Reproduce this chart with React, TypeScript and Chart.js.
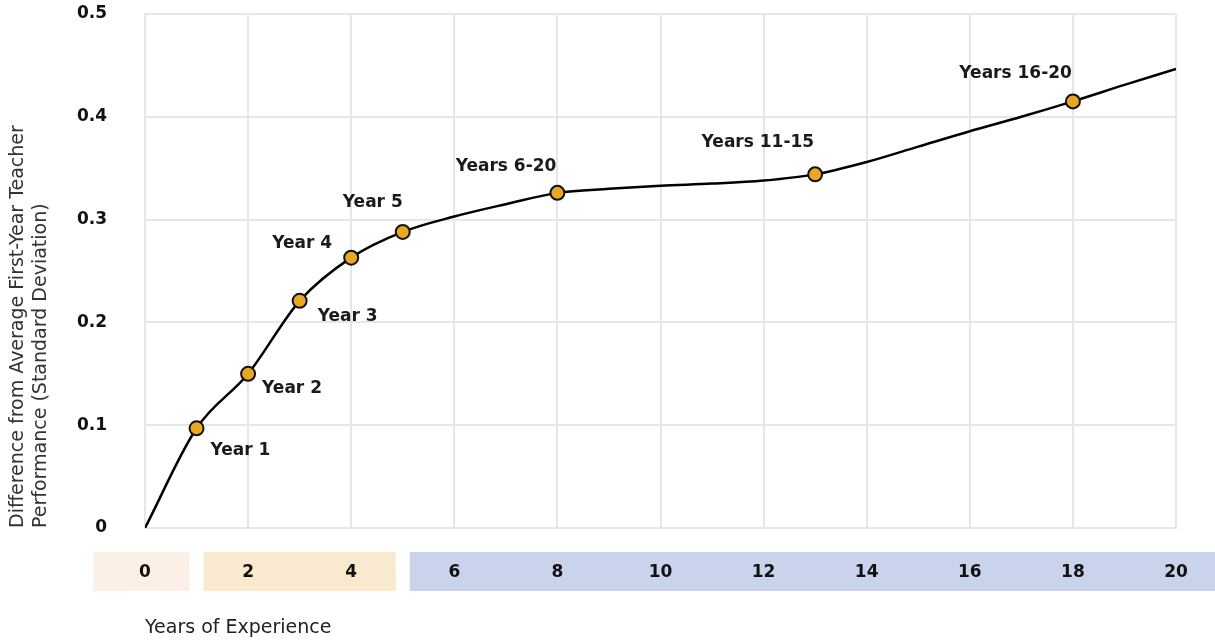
import React, { useEffect, useRef } from "react";
import { Chart, registerables } from "chart.js";

Chart.register(...registerables);

// ---- data ----
const years = [0, 1, 2, 3, 4, 5, 6, 7, 8, 9, 10, 11, 12, 13, 14, 15, 16, 17, 18, 19, 20];
const effect = [0, 0.097, 0.15, 0.221, 0.263, 0.288, 0.303, 0.315, 0.326, 0.33, 0.333, 0.335, 0.338, 0.344, 0.356, 0.371, 0.386, 0.4, 0.415, 0.431, 0.4465];

const markerYears = [1, 2, 3, 4, 5, 8, 13, 18];
const markerValues = [0.097, 0.15, 0.221, 0.263, 0.288, 0.326, 0.344, 0.415];
const markerLabels = ["Year 1", "Year 2", "Year 3", "Year 4", "Year 5", "Years 6-20", "Years 11-15", "Years 16-20"];

const xTickLabels = ["0", "2", "4", "6", "8", "10", "12", "14", "16", "18", "20"];
const yTickLabels = ["0", "0.1", "0.2", "0.3", "0.4", "0.5"];

const bandFrom = [-1, 1, 5];
const bandTo = [1, 5, 21];
const bandColors = ["#FCEFE6", "#F9EACF", "#C9D3EB"];

const xTitle = "Years of Experience";
const yTitle = ["Difference from Average First-Year Teacher", "Performance (Standard Deviation)"];

// ---- label placement (layout) ----
const labelPlacement = [
  { align: "left", dx: 14, dy: 22 },
  { align: "left", dx: 14, dy: 15 },
  { align: "left", dx: 18, dy: 16 },
  { align: "right", dx: -19, dy: -14 },
  { align: "right", dx: 0, dy: -29 },
  { align: "right", dx: -1, dy: -26 },
  { align: "right", dx: -1, dy: -32 },
  { align: "right", dx: -1, dy: -28 },
];

const FONT = "'DejaVu Sans', sans-serif";

const bandsPlugin = {
  id: "bands",
  beforeDraw(chart: any) {
    const { ctx, chartArea, scales } = chart;
    const xs = scales.x;
    const gap = 7;
    const top = chartArea.bottom + 24;
    const h = 39;
    ctx.save();
    for (let i = 0; i < bandFrom.length; i++) {
      let l = xs.getPixelForValue(bandFrom[i]);
      let r = xs.getPixelForValue(bandTo[i]);
      if (i > 0) l += gap;
      if (i < bandFrom.length - 1) r -= gap;
      r = Math.min(r, chart.width);
      ctx.fillStyle = bandColors[i];
      ctx.fillRect(l, top, r - l, h);
    }
    ctx.restore();
  },
};

const labelsPlugin = {
  id: "pointLabels",
  afterDatasetsDraw(chart: any) {
    const { ctx } = chart;
    const meta = chart.getDatasetMeta(0);
    ctx.save();
    ctx.font = `bold 17px ${FONT}`;
    ctx.fillStyle = "#1a1a1a";
    ctx.textBaseline = "middle";
    meta.data.forEach((pt: any, i: number) => {
      const p = labelPlacement[i];
      ctx.textAlign = p.align;
      ctx.fillText(markerLabels[i], pt.x + p.dx, pt.y + p.dy);
    });
    ctx.restore();
  },
};

export default function App() {
  const ref = useRef<HTMLCanvasElement | null>(null);
  useEffect(() => {
    if (!ref.current) return;
    const gridColor = "#E6E6E6";
    const chart = new Chart(ref.current, {
      type: "line",
      data: {
        datasets: [
          {
            type: "scatter",
            data: markerYears.map((x, i) => ({ x, y: markerValues[i] })),
            pointRadius: 7,
            pointHoverRadius: 7,
            pointBackgroundColor: "#E8A822",
            pointBorderColor: "#111",
            pointBorderWidth: 2,
            showLine: false,
          } as any,
          {
            type: "line",
            data: years.map((x, i) => ({ x, y: effect[i] })),
            borderColor: "#000",
            borderWidth: 2.5,
            pointRadius: 0,
            cubicInterpolationMode: "monotone",
            fill: false,
          } as any,
        ],
      },
      options: {
        animation: false,
        responsive: false,
        devicePixelRatio: 1,
        events: [],
        layout: { padding: { left: 0, right: 39, top: 14, bottom: 0 } },
        plugins: { legend: { display: false }, tooltip: { enabled: false } },
        scales: {
          x: {
            type: "linear",
            min: 0,
            max: 20,
            afterFit: (s: any) => {
              s.height = 115;
              s.paddingLeft = 0;
              s.paddingRight = 0;
            },
            ticks: {
              stepSize: 2,
              padding: 34,
              color: "#111",
              font: { family: FONT, size: 17, weight: "bold" },
              callback: (_v: any, i: number) => xTickLabels[i],
              maxRotation: 0,
              autoSkip: false,
            },
            grid: { color: gridColor, lineWidth: 2, drawTicks: false },
            border: { color: gridColor, width: 2 },
            title: {
              display: true,
              text: xTitle,
              align: "start",
              color: "#222",
              font: { family: FONT, size: 19, lineHeight: 1.2 },
              padding: { top: 0, bottom: 4 },
            },
          },
          y: {
            type: "linear",
            min: 0,
            max: 0.5,
            afterFit: (s: any) => {
              s.width = 145;
              s.paddingTop = 0;
              s.paddingBottom = 0;
            },
            ticks: {
              stepSize: 0.1,
              padding: 38,
              color: "#111",
              font: { family: FONT, size: 17, weight: "bold" },
              callback: (_v: any, i: number) => yTickLabels[i],
            },
            grid: { color: gridColor, lineWidth: 2, drawTicks: false },
            border: { color: gridColor, width: 2 },
            title: {
              display: true,
              text: yTitle,
              align: "start",
              color: "#333",
              font: { family: FONT, size: 19, lineHeight: 1.21 },
              padding: { top: 7, bottom: 0 },
            },
          },
        },
      } as any,
      plugins: [bandsPlugin, labelsPlugin],
    });
    return () => chart.destroy();
  }, []);
  return (
    <div style={{ position: "absolute", left: 0, top: 0, width: 1215, height: 643, background: "#fff" }}>
      <canvas ref={ref} width={1215} height={643} style={{ width: 1215, height: 643 }} />
    </div>
  );
}
